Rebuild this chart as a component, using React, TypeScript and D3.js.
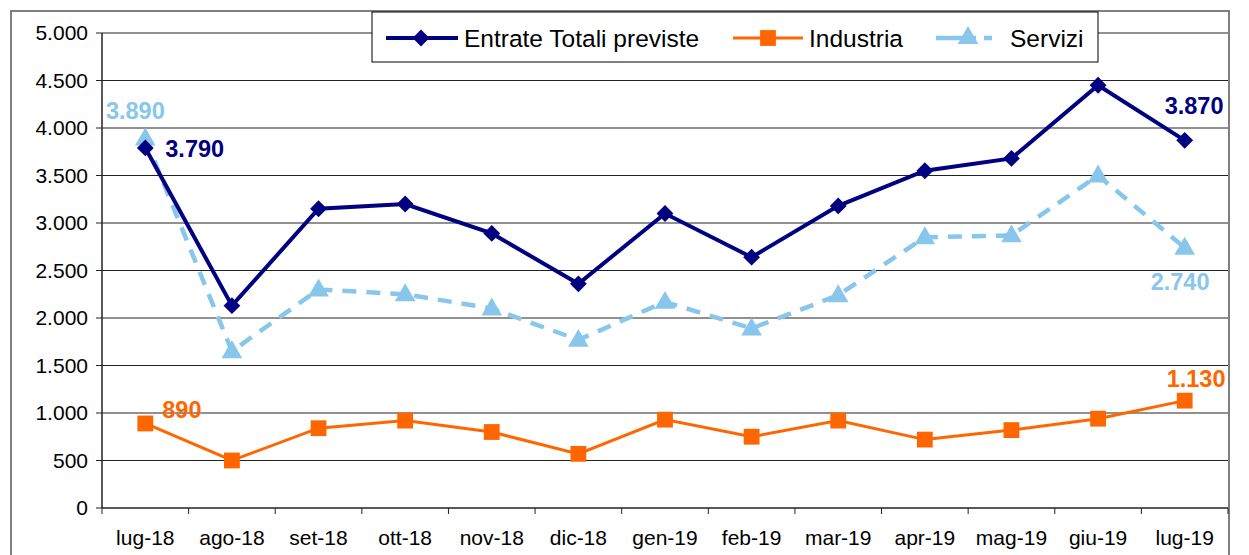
import * as d3 from "d3";

const months = ["lug-18", "ago-18", "set-18", "ott-18", "nov-18", "dic-18", "gen-19", "feb-19", "mar-19", "apr-19", "mag-19", "giu-19", "lug-19"];
const entrate = [3790, 2130, 3150, 3200, 2890, 2360, 3100, 2640, 3180, 3550, 3680, 4450, 3870];
const industria = [890, 500, 840, 920, 800, 570, 930, 750, 920, 720, 820, 940, 1130];
const servizi = [3890, 1650, 2300, 2250, 2100, 1770, 2170, 1890, 2240, 2850, 2870, 3500, 2740];
const yTicks = [0, 500, 1000, 1500, 2000, 2500, 3000, 3500, 4000, 4500, 5000];

const NAVY = "#000080";
const ORANGE = "#FF6600";
const SKY = "#88C6EC";
const FONT = "'Liberation Sans', Arial, sans-serif";

const fmt = (v: number) => d3.format(",")(v).replace(/,/g, ".");

const diamond = d3.symbol().type(d3.symbolDiamond2).size(180);
const square = d3.symbol().type(d3.symbolSquare).size(250);
const triangle = d3.symbol().type(d3.symbolTriangle).size(185);

export default function App() {
  const left = 102, right = 1228, top = 33, bottom = 508;

  const x = d3.scaleBand().domain(months).range([left, right]);
  const cx = (m: string) => (x(m) as number) + x.bandwidth() / 2;
  const y = d3.scaleLinear().domain([0, 5000]).range([bottom, top]);

  const line = d3.line<number>().x((_, i) => cx(months[i])).y((d) => y(d));

  const last = months.length - 1;

  return (
    <svg width={1249} height={555} style={{ position: "absolute", left: 0, top: 0, fontFamily: FONT }}>
      <rect x={0} y={0} width={1249} height={555} fill="#fff" />
      {/* outer chart frame */}
      <rect x={11} y={11} width={1218} height={560} fill="none" stroke="#7f7f7f" strokeWidth={2} />

      {/* grid */}
      {yTicks.map((t) => (
        <g key={t}>
          {t > 0 && <line x1={left} x2={right} y1={y(t)} y2={y(t)} stroke="#222" strokeWidth={1} />}
          <line x1={left - 6} x2={left} y1={y(t)} y2={y(t)} stroke="#222" />
          <text x={88} y={y(t) + 7} textAnchor="end" fontSize={21} fill="#000">{fmt(t)}</text>
        </g>
      ))}
      <line x1={left} x2={left} y1={top} y2={bottom} stroke="#222" strokeWidth={1.5} />
      <line x1={left} x2={right} y1={bottom} y2={bottom} stroke="#222" strokeWidth={1.5} />
      {months.map((m) => (
        <line key={m} x1={x(m)} x2={x(m)} y1={bottom} y2={bottom + 6} stroke="#222" />
      ))}
      <line x1={right} x2={right} y1={bottom} y2={bottom + 6} stroke="#222" />
      {months.map((m) => (
        <text key={m} x={cx(m)} y={545} textAnchor="middle" fontSize={21} fill="#000">{m}</text>
      ))}

      {/* series */}
      <path d={line(servizi) ?? ""} fill="none" stroke={SKY} strokeWidth={4.5} strokeDasharray="14 10" />
      <path d={line(industria) ?? ""} fill="none" stroke={ORANGE} strokeWidth={3} />
      <path d={line(entrate) ?? ""} fill="none" stroke={NAVY} strokeWidth={4} />
      {industria.map((v, i) => (
        <path key={i} d={square() ?? ""} transform={`translate(${cx(months[i])},${y(v)})`} fill={ORANGE} />
      ))}
      {servizi.map((v, i) => (
        <path key={i} d={triangle() ?? ""} transform={`translate(${cx(months[i])},${y(v) + 1})`} fill={SKY} />
      ))}
      {entrate.map((v, i) => (
        <path key={i} d={diamond() ?? ""} transform={`translate(${cx(months[i])},${y(v)})`} fill={NAVY} />
      ))}

      {/* data labels */}
      <g fontSize={23.5} fontWeight="bold">
        <text x={cx(months[0]) - 10} y={y(servizi[0]) - 19} textAnchor="middle" fill={SKY}>{fmt(servizi[0])}</text>
        <text x={cx(months[0]) + 20} y={y(entrate[0]) + 9} fill={NAVY}>{fmt(entrate[0])}</text>
        <text x={cx(months[0]) + 17} y={y(industria[0]) - 5} fill={ORANGE}>{fmt(industria[0])}</text>
        <text x={cx(months[last]) - 20} y={y(entrate[last]) - 26} fill={NAVY}>{fmt(entrate[last])}</text>
        <text x={cx(months[last]) - 34} y={y(servizi[last]) + 42} fill={SKY}>{fmt(servizi[last])}</text>
        <text x={cx(months[last]) - 18} y={y(industria[last]) - 14} fill={ORANGE}>{fmt(industria[last])}</text>
      </g>

      {/* legend */}
      <g>
        <rect x={372} y={12} width={726} height={50} fill="#fff" stroke="#000" strokeWidth={1} />
        <line x1={386} x2={458} y1={38} y2={38} stroke={NAVY} strokeWidth={4} />
        <path d={diamond() ?? ""} transform="translate(421,38)" fill={NAVY} />
        <text x={464} y={46.5} fontSize={24.5} fill="#000">Entrate Totali previste</text>
        <line x1={733} x2={803} y1={38} y2={38} stroke={ORANGE} strokeWidth={3} />
        <path d={square() ?? ""} transform="translate(768,38)" fill={ORANGE} />
        <text x={809} y={46.5} fontSize={24.5} fill="#000">Industria</text>
        <line x1={936} x2={1000} y1={38} y2={38} stroke={SKY} strokeWidth={4.5} strokeDasharray="40 8 8 8" />
        <path d={triangle() ?? ""} transform="translate(968,38)" fill={SKY} />
        <text x={1010} y={46.5} fontSize={24.5} fill="#000">Servizi</text>
      </g>
    </svg>
  );
}
